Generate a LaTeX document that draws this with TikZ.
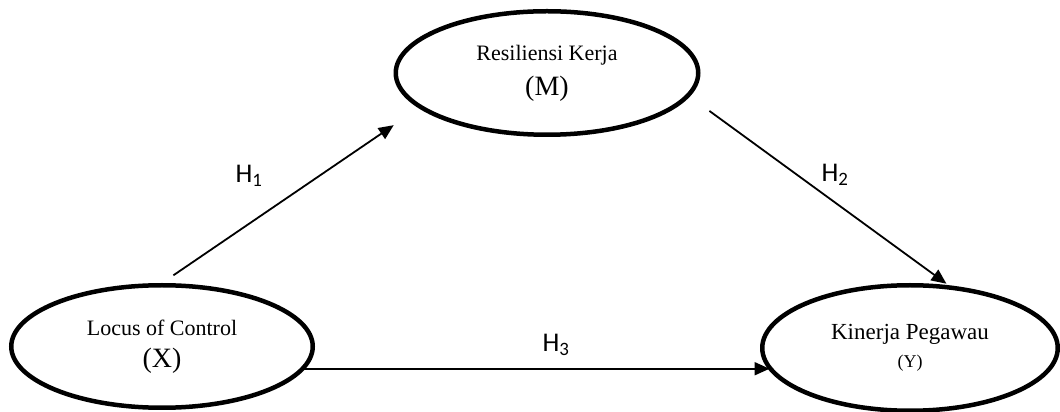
\documentclass[tikz,border=0pt]{standalone}
\usepackage{fontspec}
\setmainfont{Liberation Serif}
\newfontfamily\hfont{Carlito}
\usetikzlibrary{shapes.geometric,arrows.meta}

\tikzset{
  var/.style={draw, ellipse, line width=4.5pt, inner sep=0pt, outer sep=0pt, align=center},
  link/.style={line width=1.8pt, -{Triangle[length=15pt,width=13pt]}},
  hyp/.style={font=\hfont\fontsize{27}{27}\selectfont, inner sep=0pt}
}

\begin{document}
\begin{tikzpicture}[x=1pt,y=1pt]
\useasboundingbox (0,0) rectangle (1060,412);
% variables
\node[var, minimum width=301.5pt, minimum height=122.5pt] (lc) at (162,65.5)
  {\fontsize{22}{22}\selectfont Locus of Control\\[11pt]\fontsize{28}{28}\selectfont (X)};
\node[var, minimum width=302.5pt, minimum height=123.5pt] (m) at (547,339)
  {\fontsize{22}{22}\selectfont Resiliensi Kerja\\[10pt]\fontsize{28}{28}\selectfont (M)};
\node[var, minimum width=295.5pt, minimum height=125.5pt] (y) at (910,64)
  {\fontsize{23}{23}\selectfont Kinerja Pegawau\\[9pt]\fontsize{18}{18}\selectfont (Y)};
% paths
\draw[link, shorten <=17.7pt, shorten >=32.5pt] (lc.93) -- (m.195);
\draw[link, shorten <=26.5pt, shorten >=7pt] (m.351) -- (y.55);
\draw[link, shorten >=2pt] (lc.-9) -- (lc.-9 -| y.189);
% labels
\node[hyp] (h1) at (249,236) {H\textsubscript{1}};
\node[hyp] (h2) at (835,237) {H\textsubscript{2}};
\node[hyp] (h3) at (556,67) {H\textsubscript{3}};
\end{tikzpicture}
\end{document}
